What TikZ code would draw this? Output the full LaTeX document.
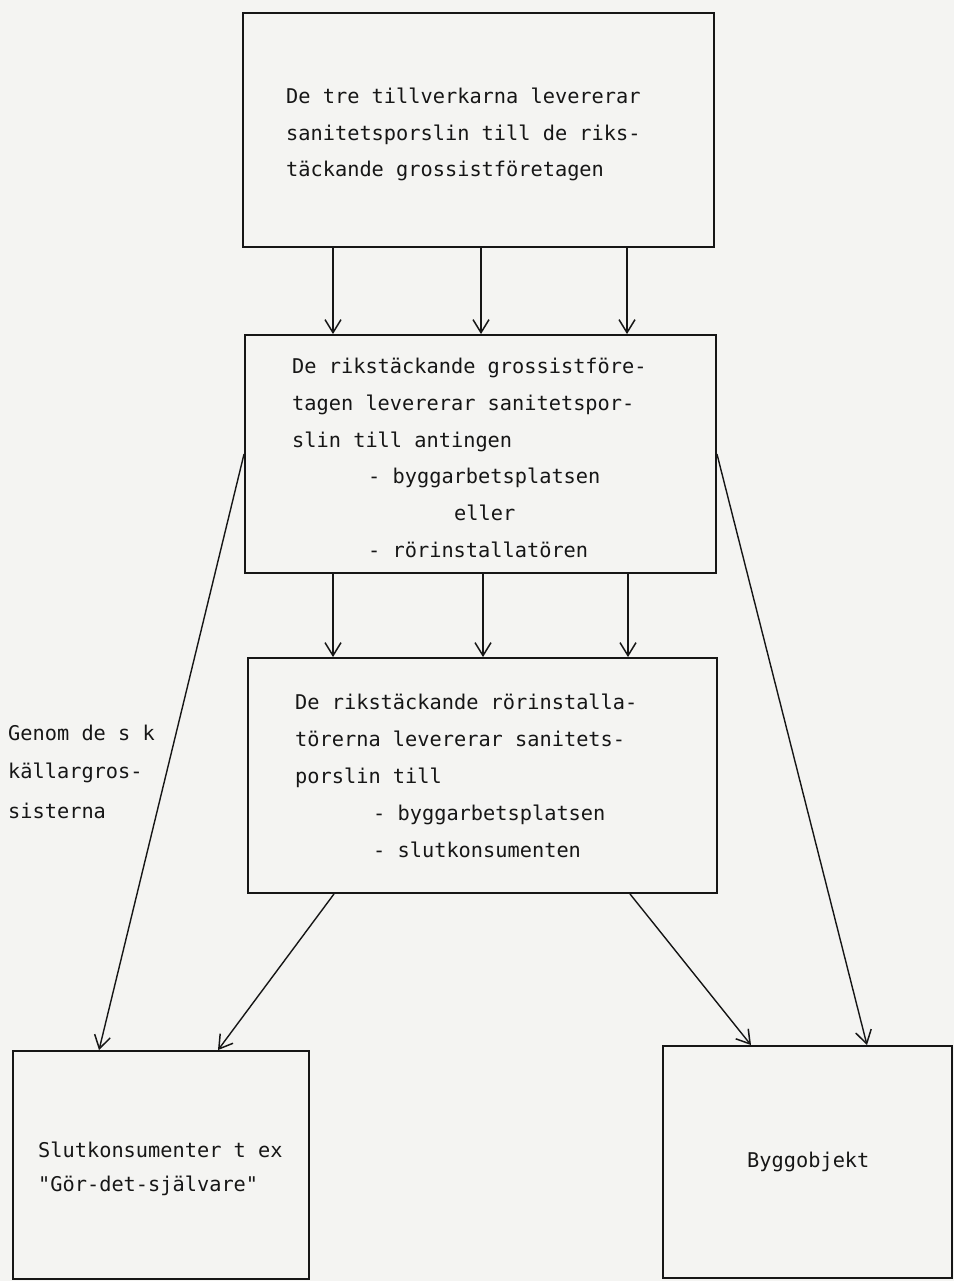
\documentclass[tikz,border=0pt]{standalone}
\usepackage{fontspec}
\setmonofont{DejaVu Sans Mono}
\usetikzlibrary{arrows.meta}
\definecolor{paper}{HTML}{F4F4F2}
\definecolor{ink}{HTML}{161616}
\begin{document}
\begin{tikzpicture}[x=1bp,y=-1bp,
  box/.style={draw=ink, line width=1.9bp, inner sep=0pt},
  txt/.style={anchor=base west, inner sep=0pt, text=ink,
    font=\ttfamily\fontsize{20.3bp}{24bp}\selectfont},
  arr/.style={draw=ink, line width=1.4bp,
    -{Straight Barb[length=13bp,width=16bp,line width=1.5bp]}}]
% sheet
\fill[paper] (0,0) rectangle (954,1281);
\useasboundingbox (0,0) rectangle (954,1281);

% boxes
\node[box, minimum width=471bp, minimum height=234bp] (b1) at (478.5,130) {};
\node[box, minimum width=471bp, minimum height=238bp] (b2) at (480.5,454) {};
\node[box, minimum width=469bp, minimum height=235bp] (b3) at (482.5,775.5) {};
\node[box, minimum width=296bp, minimum height=228bp] (b4) at (161,1165) {};
\node[box, minimum width=289bp, minimum height=232bp] (b5) at (807.5,1162) {};

% texts of the first box
\node[txt] (t1a) at (286,103) {De tre tillverkarna levererar};
\node[txt] (t1b) at (286,140) {sanitetsporslin till de riks-};
\node[txt] (t1c) at (286,176) {täckande grossistföretagen};

% texts of the second box
\node[txt] (t2a) at (292,373) {De rikstäckande grossistföre-};
\node[txt] (t2b) at (292,410) {tagen levererar sanitetspor-};
\node[txt] (t2c) at (292,447) {slin till antingen};
\node[txt] (t2d) at (368,483) {- byggarbetsplatsen};
\node[txt] (t2e) at (454,520) {eller};
\node[txt] (t2f) at (368,557) {- rörinstallatören};

% texts of the third box
\node[txt] (t3a) at (295,709) {De rikstäckande rörinstalla-};
\node[txt] (t3b) at (295,746) {törerna levererar sanitets-};
\node[txt] (t3c) at (295,783) {porslin till};
\node[txt] (t3d) at (373,820) {- byggarbetsplatsen};
\node[txt] (t3e) at (373,857) {- slutkonsumenten};

% side label
\node[txt] (la) at (8,740) {Genom de s k};
\node[txt] (lb) at (8,778) {källargros-};
\node[txt] (lc) at (8,818) {sisterna};

% texts of the bottom boxes
\node[txt] (t4a) at (38,1157) {Slutkonsumenter t ex};
\node[txt] (t4b) at (38,1191) {"Gör-det-självare"};
\node[txt] (t5a) at (747,1167) {Byggobjekt};

% connectors
\draw[arr] (b1.south -| 333,0) -- (b2.north -| 333,0);
\draw[arr] (b1.south -| 481,0) -- (b2.north -| 481,0);
\draw[arr] (b1.south -| 627,0) -- (b2.north -| 627,0);
\draw[arr] (b2.south -| 333,0) -- (b3.north -| 333,0);
\draw[arr] (b2.south -| 483,0) -- (b3.north -| 483,0);
\draw[arr] (b2.south -| 628,0) -- (b3.north -| 628,0);
\draw[arr] (b2.west) -- (b4.north -| 99,0);
\draw[arr] (b2.east) -- (b5.north -| 867,0);
\draw[arr] (b3.south -| 334,0) -- (b4.north -| 218,0);
\draw[arr] (b3.south -| 630,0) -- (b5.north -| 751,0);
\end{tikzpicture}
\end{document}
